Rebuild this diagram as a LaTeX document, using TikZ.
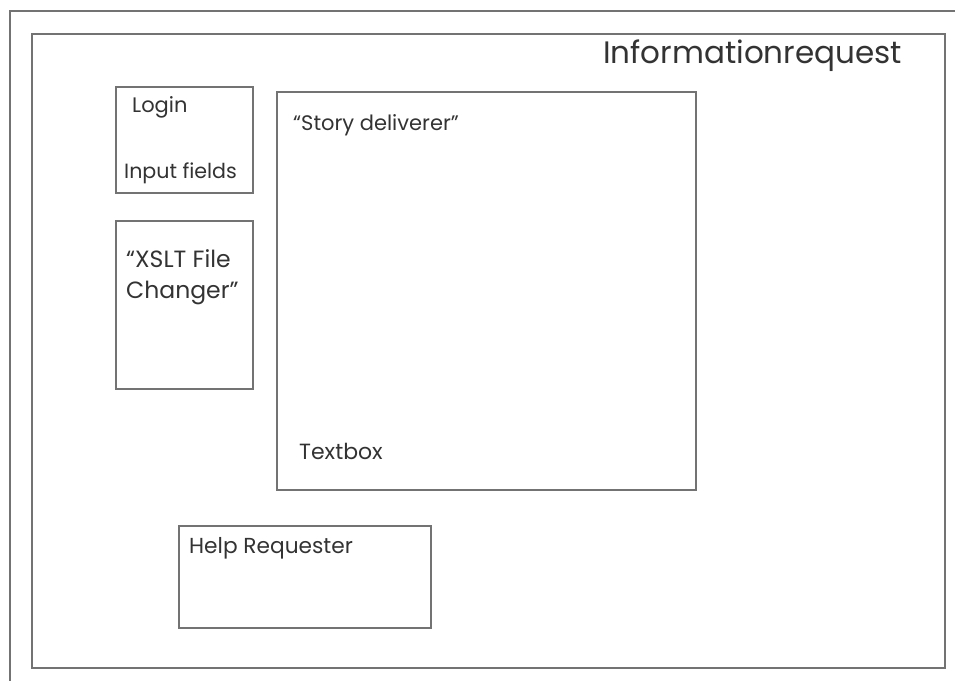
\documentclass[tikz,border=0pt]{standalone}
\usepackage{fontspec}
\setmainfont{Poppins}
\usepackage{tikz}

\tikzset{
  frame/.style={draw=black!55, line width=1.6pt},
  box/.style={draw=black!55, line width=1.6pt, anchor=north west, inner sep=0pt},
  lbl/.style={anchor=base west, inner sep=0pt, text=black!80}
}

\begin{document}
\begin{tikzpicture}[x=1pt,y=-1pt]
\useasboundingbox (0,0) rectangle (955,681);

\coordinate (tr) at (955,11);
\coordinate (tl) at (10,11);
\coordinate (bl) at (10,681);
\draw[frame] (tr) -- (tl) -- (bl);

\node[box, minimum width=913pt, minimum height=634pt] (main) at (31,33) {};

\node[box, minimum width=137pt, minimum height=106pt] (login) at (115,86) {};

\node[box, minimum width=137pt, minimum height=168pt] (xslt) at (115,220) {};

\node[box, minimum width=419pt, minimum height=398pt] (story) at (276,91) {};

\node[box, minimum width=252pt, minimum height=102pt] (help) at (178,525) {};

\node[lbl, font=\fontsize{31}{36}\selectfont] (title) at (603,63) {Informationrequest};

\node[lbl, font=\fontsize{21}{24}\selectfont] (logintxt) at (132,112) {Login};
\node[lbl, font=\fontsize{20.6}{24}\selectfont] (inputtxt) at (124,178) {Input fields};

\node[lbl, font=\fontsize{23.5}{31}\selectfont, align=left] (xslttxt) at (126,298)
{“XSLT File\\Changer”};

\node[lbl, font=\fontsize{21}{24}\selectfont] (storytxt) at (293,130) {“Story deliverer”};
\node[lbl, font=\fontsize{22}{26}\selectfont] (textboxtxt) at (299,459) {Textbox};

\node[lbl, font=\fontsize{21.7}{25}\selectfont] (helptxt) at (189,553) {Help Requester};
\end{tikzpicture}
\end{document}
